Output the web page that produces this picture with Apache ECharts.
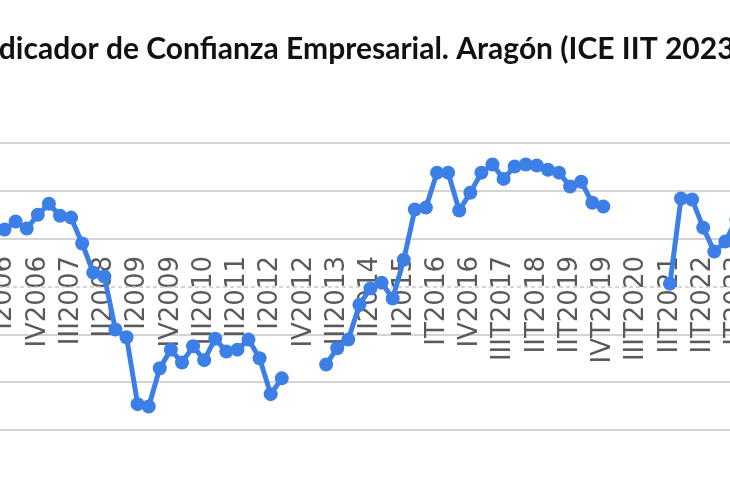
<!DOCTYPE html>
<html>
<head>
<meta charset="utf-8">
<script src="https://cdn.jsdelivr.net/npm/echarts@6/dist/echarts.min.js"></script>
<style>html,body{margin:0;padding:0;background:#fff}#c{width:730px;height:500px}</style>
</head>
<body>
<div id="c"></div>
<script>
const titleText = 'Indicador de Confianza Empresarial. Aragón (ICE IIT 2023)';
const categories = [
  'I2006','II2006','III2006','IV2006','I2007','II2007','III2007','IV2007','I2008','II2008',
  'III2008','IV2008','I2009','II2009','III2009','IV2009','I2010','II2010','III2010','IV2010',
  'I2011','II2011','III2011','IV2011','I2012','II2012','III2012','IV2012','I2013','II2013',
  'III2013','IV2013','I2014','II2014','III2014','IV2014','II2015','III2015','IV2015','IT2016',
  'IIT2016','IIIT2016','IV2016','IT2017','IIT2017','IIIT2017','IVT2017','IT2018','IIT2018','IIIT2018',
  'IVT2018','IIT2019','IIIT2019','IT2019','IVT2019','IT2020','IIT2020','IIIT2020','IVT2020','IT2021',
  'IIT2021','IIIT2021','IVT2021','IIT2022','IIIT2022','IVT2022','IT2023'
];
const iceValues = [
  11.9, 13.6, 12.1, 15.0, 17.3, 14.8, 14.4, 9.0, 2.9, 2.1,
  -9.0, -10.6, -24.6, -25.1, -17.1, -13.2, -15.9, -12.5, -15.4, -10.9,
  -13.6, -13.2, -11.1, -15.0, -22.5, -19.2, null, null, null, -16.3,
  -12.9, -11.1, -3.8, -0.4, 0.8, -2.5, 5.6, 16.1, 16.5, 23.8,
  23.8, 15.9, 19.6, 23.8, 25.5, 22.5, 25.1, 25.5, 25.3, 24.4,
  23.8, 20.9, 21.9, 17.5, 16.7, null, null, null, null, null,
  0.6, 18.4, 18.2, 12.3, 7.3, 9.4, 14.0
];
const yMin = -30, yMax = 30, yStep = 10;

const chart = echarts.init(document.getElementById('c'), null, {renderer: 'canvas'});
const gridColors = [];
for (let v = yMin; v <= yMax; v += yStep) gridColors.push(v === 0 ? 'rgba(0,0,0,0)' : '#d4d4d4');

chart.setOption({
  animation: false,
  backgroundColor: '#ffffff',
  graphic: [{
    type: 'text', x: 358, y: 34,
    style: { text: titleText, font: 'bold 30px Lato', fill: '#111111', align: 'center', verticalAlign: 'top' }
  }],
  grid: { left: -1, right: -12, top: 143, bottom: 70, containLabel: false, outerBoundsMode: 'none' },
  xAxis: {
    type: 'category', data: categories, boundaryGap: true,
    axisLine: { show: false, onZero: false },
    axisTick: { show: false },
    axisLabel: { interval: 2, rotate: 90, margin: -174, color: '#595959', fontFamily: 'DejaVu Sans', fontSize: 26 },
    splitLine: { show: false }
  },
  yAxis: {
    type: 'value', min: yMin, max: yMax, interval: yStep,
    axisLabel: { show: false }, axisLine: { show: false }, axisTick: { show: false },
    splitLine: { show: true, lineStyle: { color: gridColors, width: 2 } }
  },
  series: [{
    type: 'line', data: iceValues, connectNulls: false,
    symbol: 'circle', symbolSize: 14, showSymbol: true, showAllSymbol: true,
    lineStyle: { color: '#3c7fe6', width: 5 },
    itemStyle: { color: '#3c7fe6' },
    z: 3,
    markLine: {
      silent: true, symbol: 'none', label: { show: false }, z: 1,
      lineStyle: { color: '#c8c8c8', width: 1.5, type: [4, 3] },
      data: [{ yAxis: 0 }]
    }
  }]
});
</script>
</body>
</html>
